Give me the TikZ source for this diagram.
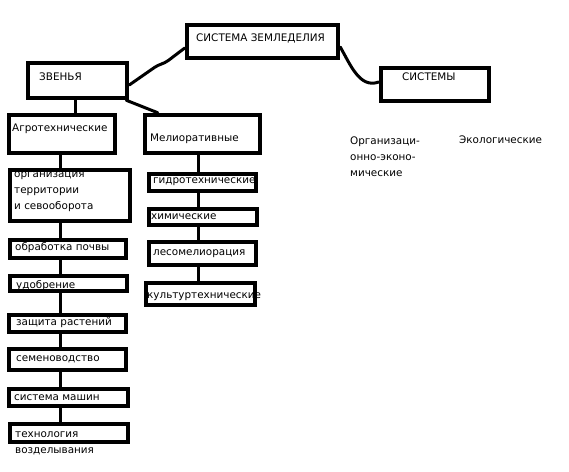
\documentclass[tikz,border=0pt]{standalone}
\usepackage{fontspec}
\setmainfont{DejaVu Sans}
\usepackage{tikz}
\usetikzlibrary{positioning, calc}

\begin{document}
\begin{tikzpicture}[x=1pt, y=-1pt,
  box/.style={draw=traco, line width=4.5pt, inner sep=0pt},
  lbl/.style={anchor=west, inner sep=0pt, align=left, text=traco, font=\fontsize{10.4}{16}\selectfont},
  link/.style={draw=traco, line width=3pt, line cap=round, line join=round}]
% --- ESQUEMA: SISTEMA DE AGRICULTURA ---
\definecolor{traco}{HTML}{000000}
\definecolor{fundo}{HTML}{FFFFFF}

% LAYER 0: Fundo
\fill[fundo] (0,0) rectangle (569,471);
\useasboundingbox (0,0) rectangle (569,471);

% LAYER 1: Topo
\node[box, minimum width=151pt, minimum height=33pt] (sys) at (262.5,41.5) {};
\node[box, minimum width=99pt, minimum height=35pt] (zven) at (77.5,80.5) {};
\node[box, minimum width=108pt, minimum height=33pt] (syss) at (435,84.5) {};
\node[lbl] (tsys) at (196,38) {СИСТЕМА ЗЕМЛЕДЕЛИЯ};
\node[lbl] (tzven) at (39,77) {ЗВЕНЬЯ};
\node[lbl] (tsyss) at (402,77) {СИСТЕМЫ};

% LAYER 2: Zvenya
\node[box, minimum width=106pt, minimum height=38pt] (agro) at (62,134) {};
\node[box, minimum width=115pt, minimum height=38pt] (melio) at (202.5,134) {};
\node[lbl] (tagro) at (12,129) {Агротехнические};
\node[lbl] (tmelio) at (150,139) {Мелиоративные};

% LAYER 3: Coluna esquerda
\node[box, minimum width=120pt, minimum height=51pt] (org) at (70,195.5) {};
\node[box, minimum width=116pt, minimum height=18pt] (obr) at (68,249) {};
\node[box, minimum width=117pt, minimum height=15pt] (udob) at (68.5,283.5) {};
\node[box, minimum width=117pt, minimum height=17pt] (zash) at (67.5,323.5) {};
\node[box, minimum width=117pt, minimum height=21pt] (sem) at (67.5,359.5) {};
\node[box, minimum width=119pt, minimum height=17pt] (mash) at (68.5,397.5) {};
\node[box, minimum width=118pt, minimum height=18pt] (tech) at (69,433) {};
\node[lbl] (torg) at (14,192) {организация\\территории\\и севооборота};
\node[lbl] (tobr) at (15,248) {обработка почвы};
\node[lbl] (tudob) at (16,286) {удобрение};
\node[lbl] (tzash) at (16,323) {защита растений};
\node[lbl] (tsem) at (16,359) {семеноводство};
\node[lbl] (tmash) at (14,398) {система машин};
\node[lbl] (ttech) at (15,443) {технология\\возделывания};

% LAYER 4: Coluna direita
\node[box, minimum width=107pt, minimum height=17pt] (gidro) at (202.5,182.5) {};
\node[box, minimum width=108pt, minimum height=16pt] (him) at (203,217) {};
\node[box, minimum width=107pt, minimum height=23pt] (les) at (202.5,253.5) {};
\node[box, minimum width=109pt, minimum height=22pt] (kult) at (200.5,294) {};
\node[lbl] (tgidro) at (153,182) {гидротехнические};
\node[lbl] (thim) at (151,217) {химические};
\node[lbl] (tles) at (153,254) {лесомелиорация};
\node[lbl] (tkult) at (147,297) {культуртехнические};

% LAYER 5: Sistemas (sem caixa)
\node[lbl] (torgek) at (350,157) {Организаци-\\онно-эконо-\\мические};
\node[lbl] (tekol) at (459,140) {Экологические};

% LAYER 6: Ligacoes
\coordinate (lspine) at (60,0);
\coordinate (rspine) at (198,0);
\draw[link, rounded corners=4pt] ([yshift=-6.5pt]sys.west) -- (165,63) -- (158,65) -- ([yshift=-4.5pt]zven.east);
\draw[link] ([yshift=-5.5pt]sys.east) to[out=-60, in=200] ([yshift=2.5pt]syss.west);
\draw[link] ([xshift=-2.5pt]zven.south) -- ([xshift=13pt]agro.north);
\draw[link] ([xshift=-3pt]zven.south east) -- ([xshift=15pt]melio.north west);
\foreach \a/\b in {agro/org, org/obr, obr/udob, udob/zash, zash/sem, sem/mash, mash/tech}
  \draw[link] (\a.south -| lspine) -- (\b.north -| lspine);
\foreach \a/\b in {melio/gidro, gidro/him, him/les, les/kult}
  \draw[link] (\a.south -| rspine) -- (\b.north -| rspine);
\end{tikzpicture}
\end{document}
